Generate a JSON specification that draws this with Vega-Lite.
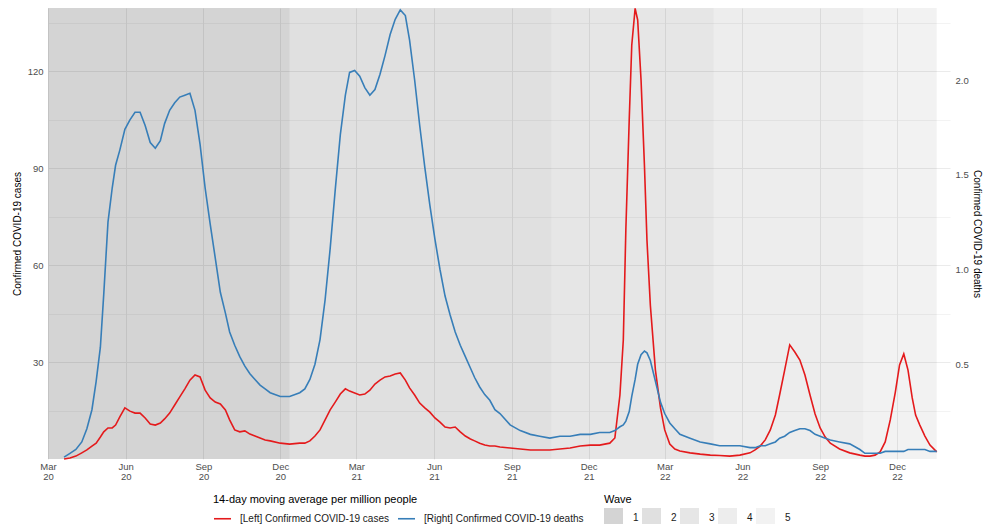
{
  "$schema": "https://vega.github.io/schema/vega-lite/v6.json",
  "width": 902,
  "height": 451,
  "autosize": {"type": "none"},
  "padding": {"left": 48, "top": 8, "right": 34, "bottom": 65},
  "background": "white",
  "config": {
    "font": "Liberation Sans",
    "view": {"stroke": null},
    "axis": {
      "domain": false,
      "ticks": false,
      "labelColor": "#4d4d4d",
      "labelFontSize": 9.5,
      "titleFontSize": 10,
      "titleFontWeight": "normal",
      "titleColor": "#000000",
      "gridColor": "#ebebeb"
    },
    "legend": {
      "titleFontSize": 11,
      "titleFontWeight": "normal",
      "titleColor": "#000000",
      "titleLimit": 400,
      "labelLimit": 300,
      "labelFontSize": 10,
      "labelColor": "#1a1a1a"
    }
  },
  "datasets": {
    "waves": [
      {"wave": 1, "start": "2020-03-01", "end": "2020-12-12"},
      {"wave": 2, "start": "2020-12-12", "end": "2021-10-18"},
      {"wave": 3, "start": "2021-10-18", "end": "2022-04-28"},
      {"wave": 4, "start": "2022-04-28", "end": "2022-10-22"},
      {"wave": 5, "start": "2022-10-22", "end": "2023-01-17"}
    ],
    "series": [
      {"date": "2020-03-20", "cases": 0.0, "deaths": 0.01},
      {"date": "2020-03-27", "cases": 0.3, "deaths": 0.03},
      {"date": "2020-04-03", "cases": 0.9, "deaths": 0.05},
      {"date": "2020-04-10", "cases": 1.9, "deaths": 0.09},
      {"date": "2020-04-16", "cases": 2.8, "deaths": 0.16},
      {"date": "2020-04-22", "cases": 4.0, "deaths": 0.26},
      {"date": "2020-04-27", "cases": 4.9, "deaths": 0.41},
      {"date": "2020-05-02", "cases": 6.8, "deaths": 0.59},
      {"date": "2020-05-06", "cases": 8.4, "deaths": 0.87},
      {"date": "2020-05-11", "cases": 9.6, "deaths": 1.25},
      {"date": "2020-05-16", "cases": 9.6, "deaths": 1.43},
      {"date": "2020-05-20", "cases": 10.5, "deaths": 1.55},
      {"date": "2020-05-25", "cases": 13.0, "deaths": 1.63},
      {"date": "2020-05-31", "cases": 15.8, "deaths": 1.74},
      {"date": "2020-06-06", "cases": 14.8, "deaths": 1.79},
      {"date": "2020-06-12", "cases": 14.2, "deaths": 1.83},
      {"date": "2020-06-18", "cases": 14.2, "deaths": 1.83},
      {"date": "2020-06-24", "cases": 12.7, "deaths": 1.76},
      {"date": "2020-06-30", "cases": 10.8, "deaths": 1.67},
      {"date": "2020-07-06", "cases": 10.5, "deaths": 1.64},
      {"date": "2020-07-12", "cases": 11.1, "deaths": 1.68},
      {"date": "2020-07-17", "cases": 12.4, "deaths": 1.77},
      {"date": "2020-07-23", "cases": 14.2, "deaths": 1.84},
      {"date": "2020-07-29", "cases": 16.7, "deaths": 1.88},
      {"date": "2020-08-04", "cases": 19.2, "deaths": 1.91},
      {"date": "2020-08-10", "cases": 21.7, "deaths": 1.92},
      {"date": "2020-08-16", "cases": 24.4, "deaths": 1.93},
      {"date": "2020-08-22", "cases": 26.0, "deaths": 1.84},
      {"date": "2020-08-28", "cases": 25.4, "deaths": 1.66},
      {"date": "2020-09-03", "cases": 21.3, "deaths": 1.43},
      {"date": "2020-09-09", "cases": 18.9, "deaths": 1.24},
      {"date": "2020-09-15", "cases": 17.6, "deaths": 1.06},
      {"date": "2020-09-21", "cases": 17.0, "deaths": 0.88},
      {"date": "2020-09-27", "cases": 15.2, "deaths": 0.77},
      {"date": "2020-10-02", "cases": 12.1, "deaths": 0.67},
      {"date": "2020-10-08", "cases": 9.0, "deaths": 0.60},
      {"date": "2020-10-14", "cases": 8.4, "deaths": 0.54},
      {"date": "2020-10-20", "cases": 8.7, "deaths": 0.49},
      {"date": "2020-10-26", "cases": 7.7, "deaths": 0.45},
      {"date": "2020-11-01", "cases": 7.1, "deaths": 0.42},
      {"date": "2020-11-07", "cases": 6.5, "deaths": 0.39},
      {"date": "2020-11-13", "cases": 5.9, "deaths": 0.37},
      {"date": "2020-11-19", "cases": 5.6, "deaths": 0.35},
      {"date": "2020-12-01", "cases": 4.9, "deaths": 0.33},
      {"date": "2020-12-12", "cases": 4.6, "deaths": 0.33},
      {"date": "2020-12-24", "cases": 4.9, "deaths": 0.35},
      {"date": "2020-12-30", "cases": 4.9, "deaths": 0.37},
      {"date": "2021-01-05", "cases": 5.6, "deaths": 0.42},
      {"date": "2021-01-11", "cases": 7.1, "deaths": 0.50},
      {"date": "2021-01-17", "cases": 9.0, "deaths": 0.63},
      {"date": "2021-01-23", "cases": 12.1, "deaths": 0.84},
      {"date": "2021-01-29", "cases": 15.2, "deaths": 1.11},
      {"date": "2021-02-04", "cases": 17.6, "deaths": 1.42},
      {"date": "2021-02-10", "cases": 20.1, "deaths": 1.71},
      {"date": "2021-02-16", "cases": 21.7, "deaths": 1.92},
      {"date": "2021-02-21", "cases": 21.0, "deaths": 2.04},
      {"date": "2021-02-27", "cases": 20.4, "deaths": 2.05},
      {"date": "2021-03-05", "cases": 19.8, "deaths": 2.02},
      {"date": "2021-03-11", "cases": 20.1, "deaths": 1.96},
      {"date": "2021-03-17", "cases": 21.3, "deaths": 1.92},
      {"date": "2021-03-23", "cases": 23.2, "deaths": 1.95},
      {"date": "2021-03-29", "cases": 24.4, "deaths": 2.03},
      {"date": "2021-04-04", "cases": 25.4, "deaths": 2.13},
      {"date": "2021-04-10", "cases": 25.7, "deaths": 2.24},
      {"date": "2021-04-16", "cases": 26.3, "deaths": 2.32},
      {"date": "2021-04-22", "cases": 26.6, "deaths": 2.37},
      {"date": "2021-04-28", "cases": 24.4, "deaths": 2.34},
      {"date": "2021-05-03", "cases": 22.0, "deaths": 2.21},
      {"date": "2021-05-09", "cases": 19.8, "deaths": 2.00},
      {"date": "2021-05-15", "cases": 17.3, "deaths": 1.76},
      {"date": "2021-05-21", "cases": 15.8, "deaths": 1.54},
      {"date": "2021-05-27", "cases": 14.5, "deaths": 1.34},
      {"date": "2021-06-02", "cases": 12.7, "deaths": 1.16},
      {"date": "2021-06-08", "cases": 11.4, "deaths": 1.00},
      {"date": "2021-06-14", "cases": 9.9, "deaths": 0.86},
      {"date": "2021-06-20", "cases": 9.6, "deaths": 0.76},
      {"date": "2021-06-26", "cases": 9.9, "deaths": 0.67},
      {"date": "2021-07-02", "cases": 8.4, "deaths": 0.60},
      {"date": "2021-07-08", "cases": 7.1, "deaths": 0.54},
      {"date": "2021-07-14", "cases": 6.2, "deaths": 0.48},
      {"date": "2021-07-19", "cases": 5.6, "deaths": 0.43},
      {"date": "2021-07-25", "cases": 4.9, "deaths": 0.38},
      {"date": "2021-07-31", "cases": 4.3, "deaths": 0.34},
      {"date": "2021-08-06", "cases": 4.0, "deaths": 0.31},
      {"date": "2021-08-12", "cases": 4.0, "deaths": 0.26},
      {"date": "2021-08-18", "cases": 3.7, "deaths": 0.24},
      {"date": "2021-08-30", "cases": 3.4, "deaths": 0.18},
      {"date": "2021-09-11", "cases": 3.1, "deaths": 0.15},
      {"date": "2021-09-23", "cases": 2.8, "deaths": 0.13},
      {"date": "2021-10-04", "cases": 2.8, "deaths": 0.12},
      {"date": "2021-10-16", "cases": 2.8, "deaths": 0.11},
      {"date": "2021-10-28", "cases": 3.1, "deaths": 0.12},
      {"date": "2021-11-09", "cases": 3.4, "deaths": 0.12},
      {"date": "2021-11-21", "cases": 4.0, "deaths": 0.13},
      {"date": "2021-12-03", "cases": 4.3, "deaths": 0.13},
      {"date": "2021-12-14", "cases": 4.3, "deaths": 0.14},
      {"date": "2021-12-20", "cases": 4.6, "deaths": 0.14},
      {"date": "2021-12-26", "cases": 4.9, "deaths": 0.14},
      {"date": "2022-01-01", "cases": 6.5, "deaths": 0.15},
      {"date": "2022-01-07", "cases": 19.8, "deaths": 0.17},
      {"date": "2022-01-11", "cases": 36.8, "deaths": 0.18},
      {"date": "2022-01-14", "cases": 70.8, "deaths": 0.20},
      {"date": "2022-01-18", "cases": 104.9, "deaths": 0.25},
      {"date": "2022-01-21", "cases": 128.0, "deaths": 0.33},
      {"date": "2022-01-25", "cases": 139.4, "deaths": 0.42},
      {"date": "2022-01-28", "cases": 135.8, "deaths": 0.50},
      {"date": "2022-02-01", "cases": 117.2, "deaths": 0.55},
      {"date": "2022-02-05", "cases": 90.9, "deaths": 0.57},
      {"date": "2022-02-08", "cases": 67.7, "deaths": 0.56},
      {"date": "2022-02-12", "cases": 47.6, "deaths": 0.52},
      {"date": "2022-02-18", "cases": 27.5, "deaths": 0.41},
      {"date": "2022-02-24", "cases": 15.8, "deaths": 0.30},
      {"date": "2022-03-01", "cases": 9.0, "deaths": 0.24},
      {"date": "2022-03-07", "cases": 4.6, "deaths": 0.19},
      {"date": "2022-03-13", "cases": 3.1, "deaths": 0.16},
      {"date": "2022-03-19", "cases": 2.5, "deaths": 0.13},
      {"date": "2022-03-31", "cases": 1.9, "deaths": 0.11},
      {"date": "2022-04-12", "cases": 1.5, "deaths": 0.09},
      {"date": "2022-04-24", "cases": 1.2, "deaths": 0.08},
      {"date": "2022-05-05", "cases": 1.1, "deaths": 0.07},
      {"date": "2022-05-17", "cases": 0.9, "deaths": 0.07},
      {"date": "2022-05-29", "cases": 1.2, "deaths": 0.07},
      {"date": "2022-06-10", "cases": 1.9, "deaths": 0.06},
      {"date": "2022-06-16", "cases": 2.8, "deaths": 0.06},
      {"date": "2022-06-22", "cases": 4.0, "deaths": 0.07},
      {"date": "2022-06-28", "cases": 5.9, "deaths": 0.07},
      {"date": "2022-07-04", "cases": 9.0, "deaths": 0.08},
      {"date": "2022-07-10", "cases": 13.6, "deaths": 0.09},
      {"date": "2022-07-15", "cases": 19.8, "deaths": 0.11},
      {"date": "2022-07-21", "cases": 27.5, "deaths": 0.12},
      {"date": "2022-07-27", "cases": 35.3, "deaths": 0.14},
      {"date": "2022-08-02", "cases": 33.1, "deaths": 0.15},
      {"date": "2022-08-08", "cases": 30.6, "deaths": 0.16},
      {"date": "2022-08-14", "cases": 26.0, "deaths": 0.16},
      {"date": "2022-08-20", "cases": 19.8, "deaths": 0.15},
      {"date": "2022-08-26", "cases": 13.9, "deaths": 0.13},
      {"date": "2022-09-01", "cases": 9.6, "deaths": 0.12},
      {"date": "2022-09-07", "cases": 6.8, "deaths": 0.11},
      {"date": "2022-09-13", "cases": 4.9, "deaths": 0.10},
      {"date": "2022-09-24", "cases": 3.1, "deaths": 0.09},
      {"date": "2022-10-06", "cases": 1.9, "deaths": 0.08},
      {"date": "2022-10-18", "cases": 1.2, "deaths": 0.05},
      {"date": "2022-10-24", "cases": 0.9, "deaths": 0.03},
      {"date": "2022-10-30", "cases": 0.9, "deaths": 0.03},
      {"date": "2022-11-05", "cases": 1.2, "deaths": 0.03},
      {"date": "2022-11-11", "cases": 2.2, "deaths": 0.03},
      {"date": "2022-11-17", "cases": 5.3, "deaths": 0.04},
      {"date": "2022-11-23", "cases": 12.1, "deaths": 0.04},
      {"date": "2022-11-29", "cases": 20.7, "deaths": 0.04},
      {"date": "2022-12-04", "cases": 29.1, "deaths": 0.04},
      {"date": "2022-12-09", "cases": 32.5, "deaths": 0.04},
      {"date": "2022-12-14", "cases": 27.5, "deaths": 0.05},
      {"date": "2022-12-19", "cases": 18.9, "deaths": 0.05},
      {"date": "2022-12-23", "cases": 13.6, "deaths": 0.05},
      {"date": "2022-12-28", "cases": 10.5, "deaths": 0.05},
      {"date": "2023-01-03", "cases": 7.1, "deaths": 0.05},
      {"date": "2023-01-09", "cases": 4.3, "deaths": 0.04},
      {"date": "2023-01-17", "cases": 2.2, "deaths": 0.04}
    ]
  },
  "layer": [
    {
      "data": {"name": "waves"},
      "mark": {"type": "rect"},
      "encoding": {
        "x": {
          "field": "start",
          "type": "temporal",
          "title": null,
          "scale": {
            "type": "utc",
            "domain": [
              {"year": 2020, "month": 3, "date": 1, "utc": true},
              {"year": 2023, "month": 2, "date": 1, "hours": 17, "utc": true}
            ]
          },
          "axis": {
            "values": [
              {"year": 2020, "month": 3, "date": 1, "utc": true},
              {"year": 2020, "month": 4, "date": 16, "utc": true},
              {"year": 2020, "month": 6, "date": 1, "utc": true},
              {"year": 2020, "month": 7, "date": 16, "utc": true},
              {"year": 2020, "month": 9, "date": 1, "utc": true},
              {"year": 2020, "month": 10, "date": 16, "utc": true},
              {"year": 2020, "month": 12, "date": 1, "utc": true},
              {"year": 2021, "month": 1, "date": 15, "utc": true},
              {"year": 2021, "month": 3, "date": 1, "utc": true},
              {"year": 2021, "month": 4, "date": 16, "utc": true},
              {"year": 2021, "month": 6, "date": 1, "utc": true},
              {"year": 2021, "month": 7, "date": 16, "utc": true},
              {"year": 2021, "month": 9, "date": 1, "utc": true},
              {"year": 2021, "month": 10, "date": 16, "utc": true},
              {"year": 2021, "month": 12, "date": 1, "utc": true},
              {"year": 2022, "month": 1, "date": 15, "utc": true},
              {"year": 2022, "month": 3, "date": 1, "utc": true},
              {"year": 2022, "month": 4, "date": 16, "utc": true},
              {"year": 2022, "month": 6, "date": 1, "utc": true},
              {"year": 2022, "month": 7, "date": 16, "utc": true},
              {"year": 2022, "month": 9, "date": 1, "utc": true},
              {"year": 2022, "month": 10, "date": 16, "utc": true},
              {"year": 2022, "month": 12, "date": 1, "utc": true},
              {"year": 2023, "month": 1, "date": 15, "utc": true}
            ],
            "labelExpr": "utcdate(datum.value) === 1 ? [utcFormat(datum.value, '%b'), utcFormat(datum.value, '%y')] : ''",
            "labelOverlap": false,
            "labelFlush": false,
            "labelBound": false,
            "labelPadding": 2,
            "labelLineHeight": 10.5,
            "labelBaseline": "top",
            "grid": true,
            "gridWidth": {"condition": {"test": "utcdate(datum.value) === 1", "value": 1}, "value": 0.6}
          }
        },
        "x2": {"field": "end"},
        "fill": {
          "field": "wave",
          "type": "ordinal",
          "title": "Wave",
          "scale": {
            "domain": [1, 2, 3, 4, 5],
            "range": ["rgba(0,0,0,0.17)", "rgba(0,0,0,0.122)", "rgba(0,0,0,0.098)", "rgba(0,0,0,0.071)", "rgba(0,0,0,0.051)"]
          },
          "legend": {
            "orient": "none",
            "legendX": 556,
            "legendY": 486,
            "direction": "horizontal",
            "symbolType": "square",
            "symbolSize": 361,
            "symbolStrokeWidth": 0,
            "labelOffset": 10,
            "columnPadding": 3,
            "titlePadding": 3
          }
        }
      }
    },
    {
      "data": {"name": "series"},
      "mark": {"type": "line", "strokeWidth": 1.6},
      "encoding": {
        "x": {"field": "date", "type": "temporal"},
        "y": {
          "field": "cases",
          "type": "quantitative",
          "title": "Confirmed COVID-19 cases",
          "scale": {"domain": [0, 139.5], "nice": false},
          "axis": {
            "values": [15, 30, 45, 60, 75, 90, 105, 120, 135],
            "labelExpr": "datum.value % 30 === 0 ? datum.label : ''",
            "labelPadding": 5,
            "titlePadding": 5,
            "grid": true,
            "gridWidth": {"condition": {"test": "datum.value % 30 === 0", "value": 1}, "value": 0.6}
          }
        },
        "stroke": {
          "datum": "[Left] Confirmed COVID-19 cases",
          "type": "nominal",
          "title": "14-day moving average per million people",
          "scale": {
            "domain": ["[Left] Confirmed COVID-19 cases", "[Right] Confirmed COVID-19 deaths"],
            "range": ["#E41A1C", "#377EB8"]
          },
          "legend": {
            "orient": "none",
            "legendX": 165,
            "legendY": 486,
            "direction": "horizontal",
            "symbolType": "stroke",
            "symbolSize": 289,
            "symbolStrokeWidth": 1.6,
            "labelOffset": 8,
            "columnPadding": 5,
            "titlePadding": 4
          }
        }
      }
    },
    {
      "data": {"name": "series"},
      "mark": {"type": "line", "strokeWidth": 1.6},
      "encoding": {
        "x": {"field": "date", "type": "temporal"},
        "y": {
          "field": "deaths",
          "type": "quantitative",
          "title": "Confirmed COVID-19 deaths",
          "scale": {"domain": [0, 2.38], "nice": false},
          "axis": {
            "orient": "right",
            "values": [0.5, 1.0, 1.5, 2.0],
            "format": ".1f",
            "labelPadding": 5,
            "titlePadding": 3,
            "grid": false
          }
        },
        "stroke": {"datum": "[Right] Confirmed COVID-19 deaths", "type": "nominal"}
      }
    }
  ],
  "resolve": {"scale": {"y": "independent"}}
}
